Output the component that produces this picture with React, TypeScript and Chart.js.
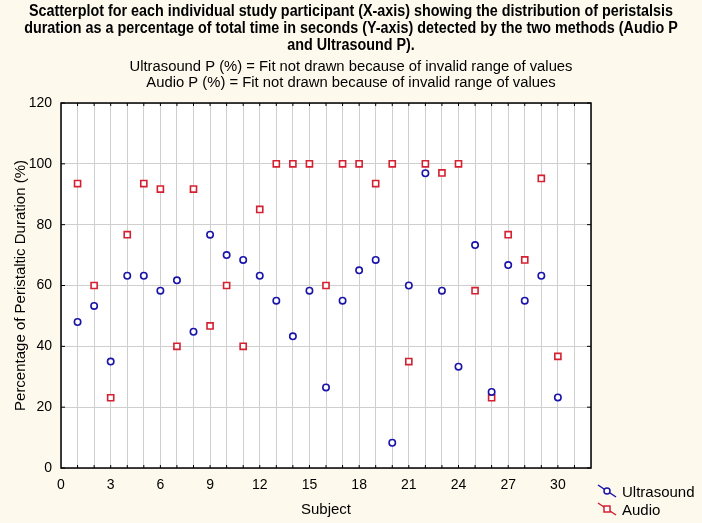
import React, { useEffect, useRef } from 'react'
import { Chart, registerables } from 'chart.js'

Chart.register(...registerables)

// subjects 1..30
const subjects = [
  1, 2, 3, 4, 5, 6, 7, 8, 9, 10, 11, 12, 13, 14, 15, 16, 17, 18, 19, 20, 21, 22, 23, 24, 25, 26, 27, 28, 29, 30,
]
const ultrasound = [
  48, 53.3, 35, 63.2, 63.2, 58.3, 61.7, 44.8, 76.7, 70, 68.4, 63.2, 55, 43.3, 58.3, 26.5, 55, 65, 68.4, 8.3, 60,
  96.9, 58.3, 33.3, 73.3, 25, 66.7, 55, 63.2, 23.2,
]
const audio = [
  93.5, 60, 23.1, 76.7, 93.5, 91.7, 40, 91.7, 46.7, 60, 40, 85, 100, 100, 100, 60, 100, 100, 93.5, 100, 35, 100,
  97, 100, 58.3, 23.1, 76.7, 68.4, 95.2, 36.7,
]
const xTickLabels = [0, 3, 6, 9, 12, 15, 18, 21, 24, 27, 30]
const yTickLabels = [0, 20, 40, 60, 80, 100, 120]

const titleLines = [
  'Scatterplot for each individual study participant (X-axis) showing the distribution of peristalsis',
  'duration as a percentage of total time in seconds (Y-axis) detected by the two methods (Audio P',
  'and Ultrasound P).',
]
const subtitleLines = [
  'Ultrasound P (%) = Fit not drawn because of invalid range of values',
  'Audio P (%) = Fit not drawn because of invalid range of values',
]

const FONT = '"Liberation Sans", Arial, sans-serif'
const BLUE = '#1a14a8'
const RED = '#d42030'

// draws centred lines squeezed horizontally, like a narrow font
const drawNarrow = (ctx: any, lines: string[], font: string, width: number, y0: number, step: number) => {
  ctx.font = font
  const ratio = width / ctx.measureText(lines[0]).width
  ctx.save()
  ctx.translate(351, 0)
  ctx.scale(ratio, 1)
  lines.forEach((t, i) => ctx.fillText(t, 0, y0 + i * step))
  ctx.restore()
}

const decorations = {
  id: 'decorations',
  beforeDraw(chart: any) {
    const { ctx, chartArea: a } = chart
    ctx.save()
    ctx.fillStyle = '#fdf9ed'
    ctx.fillRect(0, 0, chart.width, chart.height)
    ctx.fillStyle = '#ffffff'
    ctx.fillRect(a.left, a.top, a.right - a.left, a.bottom - a.top)
    ctx.restore()
  },
  afterDraw(chart: any) {
    const { ctx, chartArea: a, scales } = chart
    ctx.save()
    // frame
    ctx.strokeStyle = '#000'
    ctx.lineWidth = 1.5
    ctx.strokeRect(a.left, a.top, a.right - a.left, a.bottom - a.top)
    // inward ticks
    ctx.lineWidth = 1
    for (let v = 1; v < 32; v++) {
      const x = scales.x.getPixelForValue(v)
      ctx.beginPath()
      ctx.moveTo(x, a.bottom)
      ctx.lineTo(x, a.bottom - 3)
      ctx.moveTo(x, a.top)
      ctx.lineTo(x, a.top + 3)
      ctx.stroke()
    }
    for (const v of yTickLabels) {
      const y = scales.y.getPixelForValue(v)
      ctx.beginPath()
      ctx.moveTo(a.left, y)
      ctx.lineTo(a.left + 4, y)
      ctx.moveTo(a.right, y)
      ctx.lineTo(a.right - 4, y)
      ctx.stroke()
    }
    // title
    ctx.fillStyle = '#000'
    ctx.textAlign = 'center'
    ctx.textBaseline = 'middle'
    drawNarrow(ctx, titleLines, `bold 16px ${FONT}`, 644, 12, 17)
    drawNarrow(ctx, subtitleLines, `15.5px ${FONT}`, 443, 67, 16)
    // legend
    ctx.textAlign = 'left'
    ctx.font = `15px ${FONT}`
    chart.data.datasets.forEach((ds: any, i: number) => {
      const y0 = 485 + i * 18
      ctx.strokeStyle = ds.borderColor
      ctx.lineWidth = 1.5
      ctx.beginPath()
      ctx.moveTo(598, y0)
      ctx.lineTo(616, y0 + 12)
      ctx.stroke()
      ctx.beginPath()
      ctx.fillStyle = '#fff'
      if (ds.pointStyle === 'circle') {
        ctx.arc(607, y0 + 6, 3, 0, Math.PI * 2)
      } else {
        ctx.rect(604, y0 + 3, 6, 6)
      }
      ctx.fill()
      ctx.stroke()
      ctx.fillStyle = '#000'
      ctx.fillText(ds.label, 622, y0 + 8)
    })
    ctx.restore()
  },
}

const App = () => {
  const chartRef = useRef<HTMLCanvasElement | null>(null)

  useEffect(() => {
    document.body.style.margin = '0'
    document.body.style.background = '#fdf9ed'
    if (!chartRef.current) return
    const chart = new Chart(chartRef.current, {
      type: 'scatter',
      data: {
        datasets: [
          {
            label: 'Ultrasound',
            data: subjects.map((s, i) => ({ x: s, y: ultrasound[i] })),
            borderColor: BLUE,
            backgroundColor: '#ffffff',
            pointStyle: 'circle',
            pointRadius: 3.2,
            pointBorderWidth: 1.6,
          },
          {
            label: 'Audio',
            data: subjects.map((s, i) => ({ x: s, y: audio[i] })),
            borderColor: RED,
            backgroundColor: '#ffffff',
            pointStyle: 'rect',
            pointRadius: 4.3,
            pointBorderWidth: 1.6,
          },
        ],
      },
      options: {
        animation: false,
        responsive: false,
        layout: { padding: { top: 103, right: 111, left: 0, bottom: 0 } },
        plugins: {
          legend: { display: false },
          tooltip: { enabled: false },
        },
        scales: {
          x: {
            type: 'linear',
            min: 0,
            max: 32,
            afterFit: (scale: any) => {
              scale.height = 55
            },
            afterBuildTicks: (scale: any) => {
              scale.ticks = Array.from({ length: 33 }, (_, v) => ({ value: v }))
            },
            ticks: {
              autoSkip: false,
              maxRotation: 0,
              padding: 9,
              color: '#000',
              font: { family: FONT, size: 14 },
              callback: (v: any) => (xTickLabels.includes(Number(v)) ? String(v) : ''),
            },
            grid: { color: '#cfcfcf', lineWidth: 1, drawTicks: false },
            border: { display: false },
            title: {
              display: true,
              text: 'Subject',
              color: '#000',
              font: { family: FONT, size: 15 },
              padding: { top: 0, bottom: 4 },
            },
          },
          y: {
            min: 0,
            max: 120,
            afterFit: (scale: any) => {
              scale.width = 61
            },
            afterBuildTicks: (scale: any) => {
              scale.ticks = yTickLabels.map((v) => ({ value: v }))
            },
            ticks: {
              padding: 9,
              color: '#000',
              font: { family: FONT, size: 14 },
            },
            grid: { color: '#cfcfcf', lineWidth: 1, drawTicks: false },
            border: { display: false },
            title: {
              display: true,
              text: 'Percentage of Peristaltic Duration (%)',
              color: '#000',
              font: { family: FONT, size: 15 },
              padding: { top: 12, bottom: 0 },
            },
          },
        },
      },
      plugins: [decorations],
    })

    return () => chart.destroy()
  }, [])

  return <canvas ref={chartRef} width={702} height={523} style={{ display: 'block' }} />
}

export default App
